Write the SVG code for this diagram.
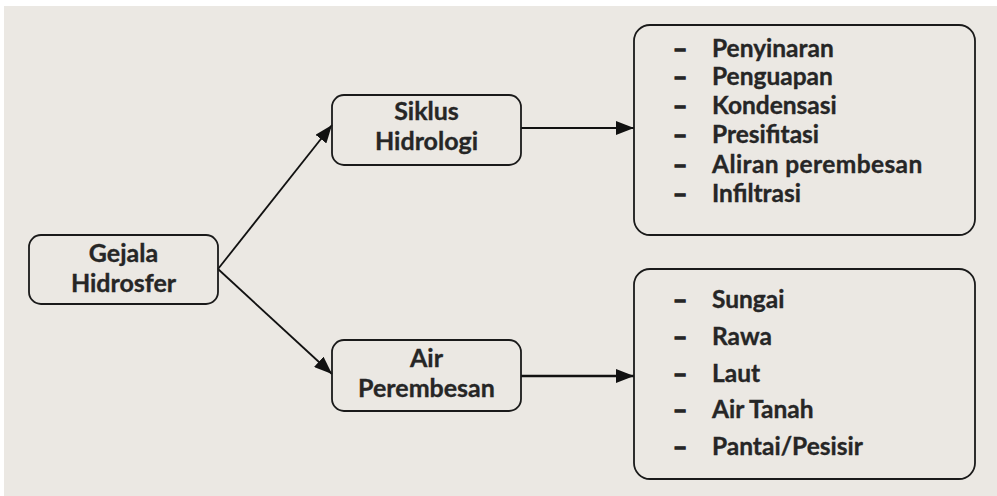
<svg xmlns="http://www.w3.org/2000/svg" width="997" height="496" viewBox="0 0 997 496">
  <defs>
    <marker id="ah" viewBox="0 0 18 14" refX="18" refY="7" markerWidth="18" markerHeight="14" markerUnits="userSpaceOnUse" orient="auto">
      <path d="M0,0 L18,7 L0,14 Z" fill="#111"/>
    </marker>
    <style>
      .box { fill: none; stroke: #1a1a1a; stroke-width: 1.8; }
      .t { font-family: Lato, "Open Sans", "Liberation Sans", sans-serif; font-weight: bold; font-size: 24.5px; fill: #262626; stroke: #262626; stroke-width: 0.35; }
      .nt { font-size: 25px; }
      .d { stroke-width: 1.4; }
      .c { text-anchor: middle; }
      .conn { stroke: #111; stroke-width: 1.8; fill: none; marker-end: url(#ah); }
    </style>
  </defs>
  <rect x="0" y="0" width="997" height="496" fill="#ffffff"/>
  <rect x="4" y="6" width="993" height="490" fill="#ebe8e3"/>

  <g id="connectors">
    <line class="conn" x1="218" y1="269" x2="332" y2="125"/>
    <line class="conn" x1="218" y1="269" x2="332" y2="374"/>
    <line class="conn" x1="521" y1="128" x2="634" y2="128"/>
    <line class="conn" x1="521" y1="376" x2="634" y2="376" style="stroke-width:2.6"/>
  </g>

  <g id="gejala">
    <rect class="box" x="29" y="235" width="189" height="69" rx="12"/>
    <text class="t nt c" x="123.5" y="261.5">Gejala</text>
    <text class="t nt c" x="123.5" y="291.5">Hidrosfer</text>
  </g>

  <g id="siklus">
    <rect class="box" x="332" y="95" width="189" height="70" rx="12"/>
    <text class="t nt c" x="426.5" y="120">Siklus</text>
    <text class="t nt c" x="426.5" y="150">Hidrologi</text>
  </g>

  <g id="air">
    <rect class="box" x="332" y="340" width="189" height="71" rx="12"/>
    <text class="t nt c" x="426.5" y="367">Air</text>
    <text class="t nt c" x="426.5" y="397">Perembesan</text>
  </g>

  <g id="list-siklus">
    <rect class="box" x="634" y="25" width="341" height="210" rx="16"/>
    <g class="t">
      <text class="d" x="673" y="56.5">–</text><text x="712" y="56.5">Penyinaran</text>
      <text class="d" x="673" y="85">–</text><text x="712" y="85">Penguapan</text>
      <text class="d" x="673" y="113.5">–</text><text x="712" y="113.5">Kondensasi</text>
      <text class="d" x="673" y="143">–</text><text x="712" y="143">Presifitasi</text>
      <text class="d" x="673" y="172.5">–</text><text x="712" y="172.5" style="letter-spacing:0.4px">Aliran perembesan</text>
      <text class="d" x="673" y="201.5">–</text><text x="712" y="201.5">Infiltrasi</text>
    </g>
  </g>

  <g id="list-air">
    <rect class="box" x="634" y="269" width="341" height="210" rx="16"/>
    <g class="t">
      <text class="d" x="673" y="308.3">–</text><text x="712" y="308.3">Sungai</text>
      <text class="d" x="673" y="345">–</text><text x="712" y="345">Rawa</text>
      <text class="d" x="673" y="381.7">–</text><text x="712" y="381.7">Laut</text>
      <text class="d" x="673" y="418.3">–</text><text x="712" y="418.3">Air Tanah</text>
      <text class="d" x="673" y="455">–</text><text x="712" y="455">Pantai/Pesisir</text>
    </g>
  </g>
</svg>
